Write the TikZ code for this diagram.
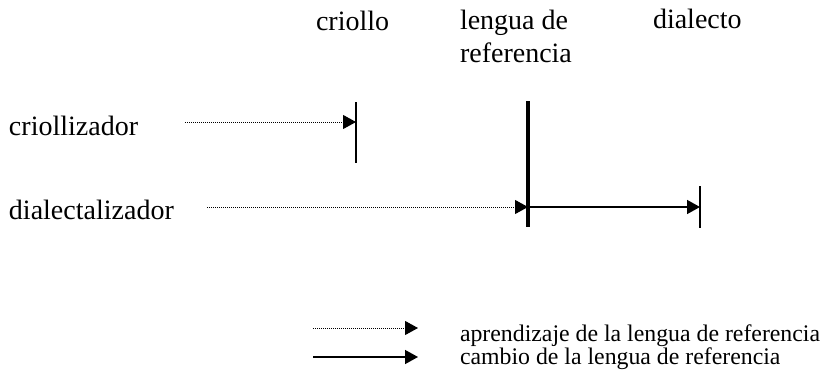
\documentclass[tikz,border=0pt]{standalone}
\usepackage{fontspec}
\setmainfont{Liberation Serif}
\usetikzlibrary{arrows.meta}
\begin{document}
\begin{tikzpicture}[x=1pt,y=-1pt,
  lbl/.style={inner sep=0pt,outer sep=0pt,anchor=base west,font=\fontsize{28}{33}\selectfont},
  leg/.style={inner sep=0pt,outer sep=0pt,anchor=base west,font=\fontsize{23.8}{28}\selectfont},
  learnarrow/.style={line width=1pt,dash pattern=on 1pt off 1pt,-{Triangle[length=13pt,width=14pt]}},
  changearrow/.style={line width=1.5pt,-{Triangle[length=13pt,width=14pt]}},
  bar/.style={line width=2pt},
  refbar/.style={line width=3.5pt}]
\useasboundingbox (0,0) rectangle (824,378);
% headers
\node[lbl] (criollo) at (316,30) {criollo};
\node[lbl] (lenguade) at (460,29) {lengua de};
\node[lbl] (referencia) at (460,62) {referencia};
\node[lbl] (dialecto) at (653,28) {dialecto};
% row labels
\node[lbl] (crz) at (9,135) {criollizador};
\node[lbl] (dlz) at (9,219) {dialectalizador};
% bars
\coordinate (critop) at (356,102);
\coordinate (cribot) at (356,163);
\coordinate (reftop) at (528,101);
\coordinate (refbot) at (528,227);
\coordinate (diatop) at (700,186);
\coordinate (diabot) at (700,228);
\draw[bar] (critop) -- (cribot);
\draw[refbar] (reftop) -- (refbot);
\draw[bar] (diatop) -- (diabot);
% arrows
\coordinate (crzstart) at (185,122);
\coordinate (crzend) at (356,122);
\coordinate (dlzstart) at (207,207);
\coordinate (refhit) at (528,207);
\coordinate (diahit) at (700,207);
\draw[learnarrow] (crzstart) -- (crzend);
\draw[learnarrow] (dlzstart) -- (refhit);
\draw[changearrow] (refhit) -- (diahit);
% legend
\coordinate (l1a) at (313,328);
\coordinate (l1b) at (418,328);
\coordinate (l2a) at (313,357);
\coordinate (l2b) at (418,357);
\draw[learnarrow] (l1a) -- (l1b);
\draw[changearrow] (l2a) -- (l2b);
\node[leg] (legA) at (460,341) {aprendizaje de la lengua de referencia};
\node[leg] (legB) at (460,364) {cambio de la lengua de referencia};
\end{tikzpicture}
\end{document}
